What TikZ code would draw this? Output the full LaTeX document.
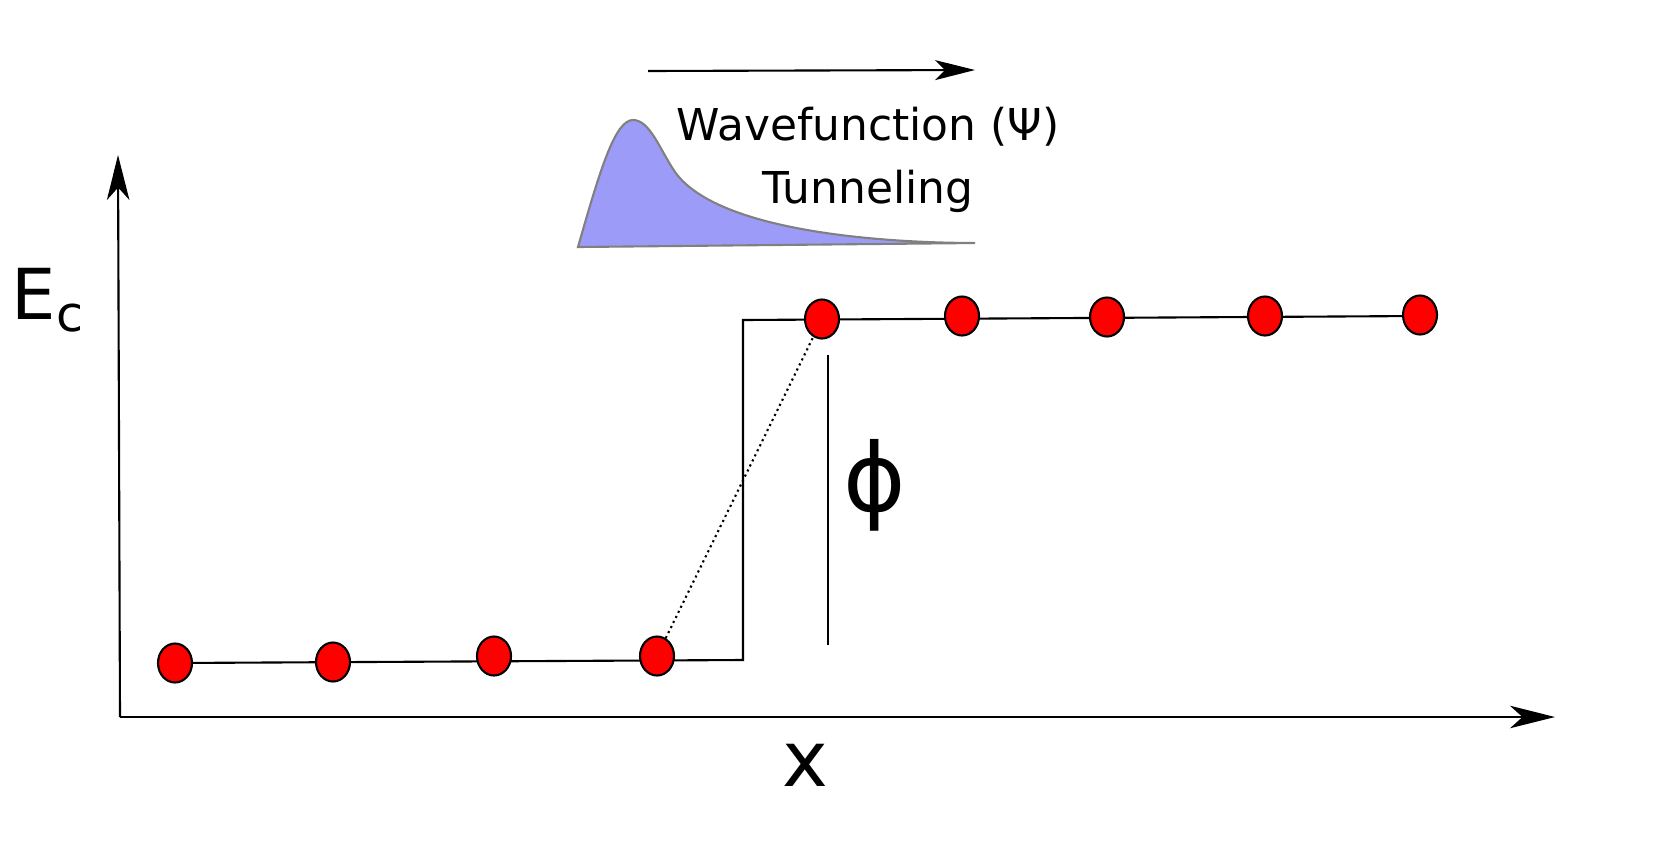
\documentclass[tikz,border=0pt]{standalone}
\usepackage{fontspec}
\setmainfont{DejaVu Sans}
\usetikzlibrary{arrows.meta}
\usetikzlibrary{calc}
\usetikzlibrary{shapes.geometric}

\tikzset{
    dot/.style={ellipse, draw=black, line width=1.2pt, fill=red, minimum width=0.68cm, minimum height=0.78cm, inner sep=0pt},
    axisarrow/.style={line width=1.2pt, -{Stealth[length=0.9cm, width=0.45cm, inset=0.25cm]}},
}

\begin{document}
\begin{tikzpicture}[x=0.02cm, y=-0.02cm]
    % axes
    \coordinate (origin) at (120,717);
    \coordinate (ytop) at (118,155);
    \coordinate (xend) at (1555,717);
    \draw[axisarrow] (origin) -- (ytop);
    \draw[axisarrow] (origin) -- (xend);
    \node[font=\fontsize{40}{40}\selectfont] (ec) at (48,300) {E\textsubscript{c}};
    \node[font=\fontsize{44}{44}\selectfont] (xlab) at (805,765) {x};
    % band edge
    \coordinate (lowstart) at (175,663);
    \coordinate (stepbot) at (743,660);
    \coordinate (steptop) at (743,320);
    \coordinate (highend) at (1420,316);
    \draw[line width=1.2pt] (lowstart) -- (stepbot) -- (steptop) -- (highend);
    % sites
    \foreach \name/\px/\py in {da/175/663, db/333/662, dc/494/656, dd/657/656,
                              de/822/319, df/962/316, dg/1107/317, dh/1265/316, di/1420/315}
        \node[dot] (\name) at (\px,\py) {};
    \draw[dotted, line width=1.2pt] (dd) -- (de);
    % barrier height
    \coordinate (phitop) at (828,355);
    \coordinate (phibot) at (828,645);
    \draw[line width=1.2pt] (phitop) -- (phibot);
    \node[font=\fontsize{54}{54}\selectfont] (phi) at (875,485) {ϕ};
    % wavefunction
    \coordinate (arrstart) at (648,71);
    \coordinate (arrend) at (975,70);
    \draw[line width=1.2pt, -{Stealth[length=0.8cm, width=0.4cm, inset=0.2cm]}] (arrstart) -- (arrend);
    \filldraw[fill={rgb,255:red,156;green,156;blue,248}, draw=gray, line width=1.2pt]
        (578,247) .. controls (600,170) and (615,120) .. (633,120)
        .. controls (650,120) and (660,150) .. (675,172)
        .. controls (720,235) and (900,243) .. (975,243)
        -- cycle;
    \node[align=center, font=\fontsize{25}{36}\selectfont] (wave) at (868,160) {Wavefunction (Ψ)\\Tunneling};
    \pgfresetboundingbox
    \useasboundingbox (0,0) rectangle (1659,859);
\end{tikzpicture}
\end{document}
